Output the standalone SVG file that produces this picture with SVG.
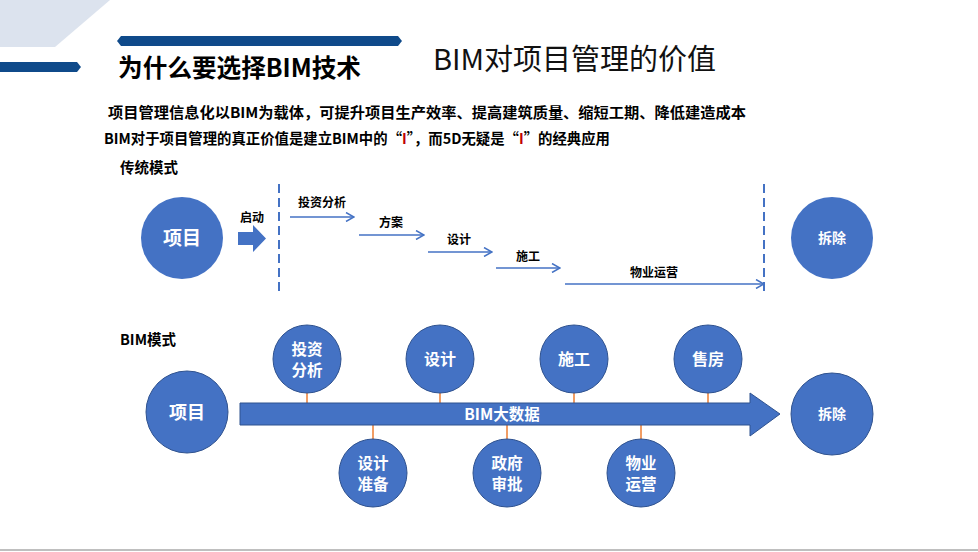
<svg xmlns="http://www.w3.org/2000/svg" width="978" height="552" viewBox="0 0 978 552">
<style>
.cjk{font-family:"Noto Sans CJK SC","Liberation Sans",sans-serif}
.b{font-weight:bold}
.node{fill:#4472C4;stroke:#2F528F;stroke-width:1}
.wt{fill:#ffffff;font-weight:bold;text-anchor:middle}
.lbl{fill:#000;font-weight:bold;font-size:12px;text-anchor:middle}
.step{stroke:#4472C4;stroke-width:1.5;fill:none;marker-end:url(#ch)}
.dash{stroke:#4472C4;stroke-width:2;stroke-dasharray:9,5}
.tie{stroke:#ED7D31;stroke-width:1.5}
</style>
<defs>
<marker id="ch" viewBox="0 0 10 10" refX="9" refY="5" markerWidth="10" markerHeight="10" markerUnits="userSpaceOnUse" orient="auto">
<path d="M1,0.5 L9,5 L1,9.5" fill="none" stroke="#4472C4" stroke-width="1.5"/>
</marker>
</defs>
<rect width="978" height="552" fill="#ffffff"/>
<!-- decorations -->
<polygon points="0,0 110,0 55,47 0,47" fill="#DCE3EE"/>
<polygon points="0,62 77,62 81,67 77,72 0,72" fill="#0F4A8A"/>
<polygon points="121,36 398,36 402,41 398,46 121,46 117,41" fill="#0F4A8A"/>
<line x1="0" y1="550" x2="978" y2="550" stroke="#BFBFBF" stroke-width="2"/>
<!-- titles -->
<text class="cjk b" x="118" y="77" font-size="25" textLength="243" lengthAdjust="spacingAndGlyphs" fill="#000">为什么要选择BIM技术</text>
<text class="cjk" x="433" y="70" font-size="29" textLength="283" lengthAdjust="spacingAndGlyphs" fill="#111">BIM对项目管理的价值</text>
<text class="cjk b" x="108" y="118" font-size="14.5" textLength="638" lengthAdjust="spacingAndGlyphs" fill="#000">项目管理信息化以BIM为载体，可提升项目生产效率、提高建筑质量、缩短工期、降低建造成本</text>
<text class="cjk b" x="104" y="144" font-size="14.5" textLength="506" lengthAdjust="spacingAndGlyphs" fill="#000">BIM对于项目管理的真正价值是建立BIM中的“<tspan fill="#C00000">I</tspan>”，而5D无疑是“<tspan fill="#C00000">I</tspan>”的经典应用</text>
<text class="cjk b" x="120" y="173" font-size="14.5" fill="#000">传统模式</text>
<text class="cjk b" x="120" y="345" font-size="14.5" fill="#000">BIM模式</text>
<!-- connectors -->
<g id="connectors">
<line class="dash" x1="279" y1="184" x2="279" y2="293"/>
<line class="dash" x1="764" y1="184" x2="764" y2="293"/>
<polygon points="238,232 253,232 253,225 266,238.5 253,252 253,245 238,245" fill="#4472C4"/>
<line class="step" x1="290" y1="217" x2="354" y2="217"/>
<line class="step" x1="359" y1="235" x2="424" y2="235"/>
<line class="step" x1="428" y1="252" x2="492" y2="252"/>
<line class="step" x1="496" y1="268" x2="560" y2="268"/>
<line class="step" x1="565" y1="284" x2="764" y2="284"/>
<line class="tie" x1="307" y1="393" x2="307" y2="403"/>
<line class="tie" x1="440" y1="393" x2="440" y2="403"/>
<line class="tie" x1="574" y1="393" x2="574" y2="403"/>
<line class="tie" x1="708" y1="393" x2="708" y2="403"/>
<line class="tie" x1="373" y1="425" x2="373" y2="439"/>
<line class="tie" x1="507" y1="425" x2="507" y2="439"/>
<line class="tie" x1="641" y1="425" x2="641" y2="439"/>
<polygon points="240,403 750,403 750,393 780,414 750,436 750,425 240,425" fill="#4472C4" stroke="#2F528F" stroke-width="1"/>
<text class="cjk wt" x="502" y="420" font-size="15.5">BIM大数据</text>
</g>
<!-- labels of traditional steps -->
<text class="cjk lbl" x="240" y="222" style="text-anchor:start">启动</text>
<text class="cjk lbl" x="322" y="207">投资分析</text>
<text class="cjk lbl" x="391" y="227">方案</text>
<text class="cjk lbl" x="459" y="244">设计</text>
<text class="cjk lbl" x="528" y="261">施工</text>
<text class="cjk lbl" x="654" y="277">物业运营</text>
<!-- nodes -->
<g id="t-project"><circle cx="182" cy="238" r="41" fill="#4472C4"/><text class="cjk wt" x="182" y="245" font-size="19">项目</text></g>
<g id="t-demolish"><circle cx="832" cy="238" r="41" fill="#4472C4"/><text class="cjk wt" x="832" y="243" font-size="14">拆除</text></g>
<g id="b-project"><circle class="node" cx="187" cy="412" r="41"/><text class="cjk wt" x="187" y="419" font-size="18">项目</text></g>
<g id="b-demolish"><circle class="node" cx="832" cy="414" r="41"/><text class="cjk wt" x="832" y="419" font-size="14">拆除</text></g>
<g id="b-invest"><circle class="node" cx="307" cy="359" r="34"/><text class="cjk wt" x="307" y="355" font-size="15.5">投资</text><text class="cjk wt" x="307" y="376" font-size="15.5">分析</text></g>
<g id="b-design"><circle class="node" cx="440" cy="359" r="34"/><text class="cjk wt" x="440" y="365" font-size="16">设计</text></g>
<g id="b-build"><circle class="node" cx="574" cy="359" r="34"/><text class="cjk wt" x="574" y="365" font-size="16">施工</text></g>
<g id="b-sale"><circle class="node" cx="708" cy="359" r="34"/><text class="cjk wt" x="708" y="365" font-size="16">售房</text></g>
<g id="b-prep"><circle class="node" cx="373" cy="473" r="34"/><text class="cjk wt" x="373" y="469" font-size="15.5">设计</text><text class="cjk wt" x="373" y="490" font-size="15.5">准备</text></g>
<g id="b-approve"><circle class="node" cx="507" cy="473" r="34"/><text class="cjk wt" x="507" y="469" font-size="15.5">政府</text><text class="cjk wt" x="507" y="490" font-size="15.5">审批</text></g>
<g id="b-operate"><circle class="node" cx="641" cy="473" r="34"/><text class="cjk wt" x="641" y="469" font-size="15.5">物业</text><text class="cjk wt" x="641" y="490" font-size="15.5">运营</text></g>
</svg>
